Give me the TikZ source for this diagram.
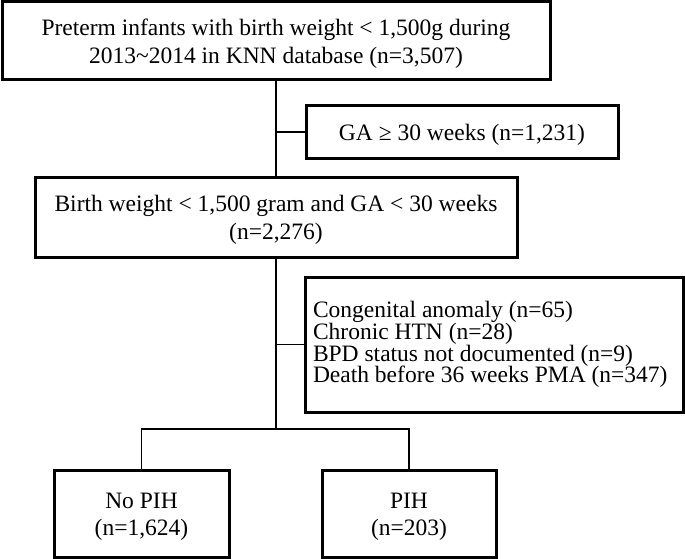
\documentclass[tikz,border=0pt]{standalone}
\usepackage{fontspec}
\setmainfont{Liberation Serif}
\newcommand{\boxstrut}{\rule{0pt}{22pt}}

\begin{document}
\begin{tikzpicture}[x=1pt, y=-1pt,
  box/.style={rectangle, draw=black, line width=3pt, align=center, inner sep=0pt,
              font=\fontsize{23.5}{27.5}\selectfont, minimum width=#1},
  link/.style={line width=1.7pt},
]
  \useasboundingbox (0,0) rectangle (685,559);

  % Boxes
  \node[box=548pt, minimum height=78pt] (all) at (276,41)
    {\boxstrut Preterm infants with birth weight < 1,500g during\\2013\textasciitilde2014 in KNN database (n=3,507)};
  \node[box=312pt, minimum height=52pt] (ga) at (462,132) {\boxstrut GA ≥ 30 weeks (n=1,231)};
  \node[box=482pt, minimum height=80pt] (crit) at (276,217)
    {\boxstrut Birth weight < 1,500 gram and GA < 30 weeks\\(n=2,276)};
  \node[box=378pt, minimum height=135pt, align=flush left, text width=362pt, inner xsep=8pt,
        font=\fontsize{23.5}{21.7}\selectfont] (excl) at (494,344.5)
    {Congenital anomaly (n=65)\\Chronic HTN (n=28)\\BPD status not documented (n=9)\\Death before 36 weeks PMA (n=347)};
  \node[box=175pt, minimum height=87pt] (nopih) at (141.5,513.5) {\boxstrut No PIH\\(n=1,624)};
  \node[box=174pt, minimum height=87pt] (pih) at (409,513.5) {\boxstrut PIH\\(n=203)};

  % Links
  \coordinate (split) at (276,429);
  \draw[link] (all.south) -- (crit.north);
  \draw[link] (all.south |- ga.west) -- (ga.west);
  \draw[link] (crit.south) -- (split);
  \draw[link] (split |- excl.west) -- (excl.west);
  \draw[link] (nopih.north) |- (split) -| (pih.north);
\end{tikzpicture}
\end{document}
